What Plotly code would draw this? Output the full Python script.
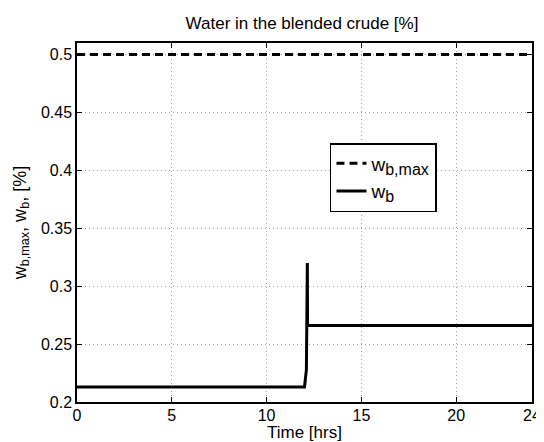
import plotly.graph_objects as go

# data
time_max = [0, 24]
w_b_max = [0.5, 0.5]
time_b = [0, 12.0, 12.1, 12.15, 12.16, 24]
w_b = [0.213, 0.213, 0.228, 0.32, 0.266, 0.266]
x_ticks = [0, 5, 10, 15, 20, 24]
y_ticks = [0.2, 0.25, 0.3, 0.35, 0.4, 0.45, 0.5]
y_tick_labels = ["0.2", "0.25", "0.3", "0.35", "0.4", "0.45", "0.5"]

FONT = "Liberation Sans, Arial, Helvetica, sans-serif"

fig = go.Figure()
fig.add_trace(go.Scatter(x=time_max, y=w_b_max, mode="lines",
                         name="w<sub><span style='font-size:16px'>b,max</span></sub>",
                         line=dict(color="black", width=3, dash="8px,5px")))
fig.add_trace(go.Scatter(x=time_b, y=w_b, mode="lines",
                         name="w<sub><span style='font-size:16px'>b</span></sub>",
                         line=dict(color="black", width=3)))

axis_common = dict(
    showline=True, linecolor="black", linewidth=1.5, mirror="ticks",
    ticks="inside", ticklen=5, tickcolor="black", tickwidth=1,
    showgrid=True, gridcolor="#a0a0a0", griddash="1px,3px", gridwidth=1,
    zeroline=False, automargin=False,
    tickfont=dict(family=FONT, size=16, color="black"),
)

# the page body adds an 8px offset, so the figure is sized to fit the window
fig.update_layout(
    width=536, height=434,
    margin=dict(l=69, r=12, t=35, b=40),
    paper_bgcolor="white", plot_bgcolor="white",
    title=dict(text="Water in the blended crude [%]", x=0.5485, xanchor="center",
               y=0.965, yanchor="middle",
               font=dict(family=FONT, size=17, color="black")),
    xaxis=dict(range=[0, 24], tickvals=x_ticks, ticktext=[str(v) for v in x_ticks],
               ticklabelstandoff=-2, **axis_common),
    yaxis=dict(range=[0.2, 0.51], tickvals=y_ticks, ticktext=y_tick_labels,
               title=dict(text="w<sub>b,max</sub>, w<sub>b</sub>, [%]", standoff=10,
                          font=dict(family=FONT, size=18, color="black")),
               **axis_common),
    legend=dict(x=0.556, y=0.7214, xanchor="left", yanchor="top",
                bordercolor="black", borderwidth=1.5, bgcolor="white",
                font=dict(family=FONT, size=19, color="black"),
                tracegroupgap=0, itemwidth=30),
    showlegend=True,
    annotations=[dict(text="Time [hrs]", xref="paper", yref="paper",
                      x=0.5, y=-0.085, xanchor="center", yanchor="middle",
                      showarrow=False,
                      font=dict(family=FONT, size=17, color="black"))],
)

fig.write_html("out.html")
